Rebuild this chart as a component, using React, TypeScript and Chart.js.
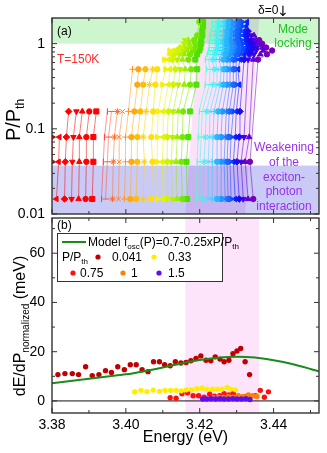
import React, { useEffect, useRef } from 'react';
import { Chart, registerables } from 'chart.js';

Chart.register(...registerables);

const FONT = '"Liberation Sans", Arial, Helvetica, sans-serif';

// ---------------- Panel (a): mode energies (eV) per excitation power ----------------
const powers = [0.015, 0.041, 0.08, 0.16, 0.33, 0.5, 0.65, 0.75, 0.83, 0.9, 1.0, 1.1, 1.25, 1.4, 1.6, 1.8];
// index of the first mode present in each power row
const firstMode = [1, 0, 0, 2, 12, 11, 16, 17, 16, 18, 19, 19, 21, 22, 22, 21];

const eP0015 = [3.3812, 3.3834, 3.3853, 3.3872, 3.3891, 3.3909, 3.3934, 3.3945, 3.3964, 3.3980, 3.3996, 3.4012, 3.4028, 3.4047, 3.4069, 3.4085, 3.4101, 3.4112, 3.4126, 3.4139, 3.4153, 3.4166, 3.4191, 3.4201, 3.4209, 3.4223, 3.4234, 3.4247, 3.4258, 3.4269, 3.4277, 3.4285, 3.4296, 3.4307, 3.4318, 3.4331, 3.4345];
const eP0041 = [3.3801, 3.3818, 3.3836, 3.3855, 3.3874, 3.3893, 3.3912, 3.3939, 3.3950, 3.3966, 3.3982, 3.3999, 3.4015, 3.4031, 3.4050, 3.4072, 3.4085, 3.4099, 3.4112, 3.4123, 3.4136, 3.4150, 3.4164, 3.4193, 3.4201, 3.4212, 3.4223, 3.4234, 3.4247, 3.4258, 3.4266, 3.4274, 3.4282, 3.4291, 3.4301, 3.4312, 3.4323, 3.4336];
const eP008 = [3.3801, 3.3820, 3.3839, 3.3858, 3.3874, 3.3893, 3.3912, 3.3942, 3.3953, 3.3969, 3.3982, 3.3999, 3.4015, 3.4031, 3.4047, 3.4069, 3.4085, 3.4101, 3.4112, 3.4126, 3.4139, 3.4153, 3.4169, 3.4196, 3.4204, 3.4215, 3.4226, 3.4236, 3.4247, 3.4258, 3.4269, 3.4277, 3.4285, 3.4296, 3.4307, 3.4320, 3.4334];
const eP016 = [3.3845, 3.3866, 3.3882, 3.3901, 3.3920, 3.3950, 3.3961, 3.3977, 3.3991, 3.4007, 3.4023, 3.4039, 3.4055, 3.4074, 3.4088, 3.4101, 3.4115, 3.4128, 3.4142, 3.4155, 3.4174, 3.4199, 3.4207, 3.4218, 3.4228, 3.4239, 3.4250, 3.4261, 3.4272, 3.4280, 3.4291, 3.4299, 3.4309];
const eP033 = [3.4031, 3.4047, 3.4064, 3.4080, 3.4099, 3.4115, 3.4128, 3.4142, 3.4158, 3.4174, 3.4191, 3.4215, 3.4226, 3.4236, 3.4247, 3.4255, 3.4264, 3.4274, 3.4282, 3.4291, 3.4299, 3.4307];
const eP05 = [3.4018, 3.4034, 3.4053, 3.4072, 3.4085, 3.4107, 3.4120, 3.4134, 3.4147, 3.4161, 3.4177, 3.4193, 3.4218, 3.4228, 3.4239, 3.4247, 3.4258, 3.4266, 3.4274, 3.4282, 3.4291, 3.4299, 3.4304];
const eP065 = [3.4104, 3.4115, 3.4126, 3.4139, 3.4153, 3.4169, 3.4188, 3.4215, 3.4223, 3.4234, 3.4242, 3.4253, 3.4264, 3.4274, 3.4282, 3.4291, 3.4299, 3.4309, 3.4320, 3.4331, 3.4345, 3.4358];
const eP075 = [3.4120, 3.4131, 3.4145, 3.4158, 3.4174, 3.4193, 3.4220, 3.4228, 3.4239, 3.4247, 3.4258, 3.4269, 3.4280, 3.4288, 3.4299, 3.4309, 3.4320, 3.4334, 3.4347, 3.4364, 3.4382];
const eP083 = [3.4118, 3.4128, 3.4139, 3.4153, 3.4166, 3.4182, 3.4199, 3.4223, 3.4231, 3.4242, 3.4250, 3.4261, 3.4272, 3.4282, 3.4293, 3.4304, 3.4315, 3.4326, 3.4339, 3.4353, 3.4372, 3.4396];
const eP09 = [3.4147, 3.4161, 3.4174, 3.4188, 3.4201, 3.4226, 3.4234, 3.4245, 3.4253, 3.4264, 3.4274, 3.4285, 3.4296, 3.4307, 3.4318, 3.4328, 3.4342, 3.4355, 3.4369, 3.4380];
const eP10 = [3.4158, 3.4172, 3.4188, 3.4204, 3.4226, 3.4234, 3.4245, 3.4253, 3.4261, 3.4272, 3.4282, 3.4293, 3.4304, 3.4315, 3.4326, 3.4336, 3.4347, 3.4358, 3.4369];
const eP11 = [3.4161, 3.4169, 3.4185, 3.4204, 3.4228, 3.4236, 3.4245, 3.4253, 3.4261, 3.4272, 3.4280, 3.4291, 3.4301, 3.4312, 3.4323, 3.4331, 3.4342, 3.4353, 3.4361];
const eP125 = [3.4193, 3.4207, 3.4228, 3.4236, 3.4245, 3.4255, 3.4264, 3.4274, 3.4282, 3.4291, 3.4301, 3.4309, 3.4320, 3.4328, 3.4339, 3.4347];
const eP14 = [3.4207, 3.4231, 3.4239, 3.4247, 3.4255, 3.4264, 3.4274, 3.4282, 3.4293, 3.4301, 3.4312, 3.4320, 3.4331];
const eP16 = [3.4209, 3.4234, 3.4242, 3.4250, 3.4258, 3.4266, 3.4277, 3.4285, 3.4296, 3.4304, 3.4315, 3.4326];
const eP18 = [3.4199, 3.4209, 3.4234, 3.4242, 3.4250, 3.4258, 3.4266, 3.4277, 3.4285, 3.4296, 3.4304, 3.4315, 3.4328];

const modeRows = [eP0015, eP0041, eP008, eP016, eP033, eP05, eP065, eP075, eP083, eP09, eP10, eP11, eP125, eP14, eP16, eP18];

// shaded regions of panel (a)
const lockingBand = [1, 2];            // P/Pth
const weakeningBand = [0.01, 0.037];   // P/Pth
const slantBandBottom = [3.4161, 3.4323]; // eV at P/Pth = 0.01
const slantBandTop = [3.4199, 3.4361];    // eV at P/Pth = 2

// ---------------- Panel (b): dE/dP normalized (meV) ----------------
const bE0041 = [3.3816, 3.3835, 3.3855, 3.3872, 3.3891, 3.3909, 3.3927, 3.3945, 3.3961, 3.3978, 3.3996, 3.4012, 3.4028, 3.4044, 3.4060, 3.4075, 3.4091, 3.4105, 3.4120, 3.4134, 3.4149, 3.4163, 3.4176, 3.4190, 3.4203, 3.4217, 3.4230, 3.4242, 3.4255, 3.4266, 3.4279, 3.4290, 3.4301, 3.4311, 3.4323, 3.4335];
const bV0041 = [10.7, 11.1, 11.1, 10.7, 13.9, 10.3, 10.7, 12.3, 11.6, 13.9, 12.7, 14.7, 14.7, 12.7, 11.9, 15.9, 15.9, 14.7, 14.3, 15.9, 15.4, 15.6, 16.3, 17.3, 18.3, 16.5, 16.3, 17.9, 17.0, 15.9, 16.5, 19.2, 20.3, 21.3, 15.9, 10.7];
const bE033 = [3.4024, 3.4041, 3.4057, 3.4074, 3.4091, 3.4106, 3.4121, 3.4136, 3.4150, 3.4164, 3.4178, 3.4192, 3.4206, 3.4219, 3.4234, 3.4247, 3.4260, 3.4274, 3.4285, 3.4297];
const bV033 = [3.6, 4.3, 3.8, 4.4, 3.9, 4.3, 4.3, 4.3, 4.1, 4.5, 4.5, 5.0, 5.3, 4.8, 4.8, 4.8, 4.8, 5.5, 4.8, 4.5];
const bE075 = [3.4120, 3.4136, 3.4152, 3.4167, 3.4182, 3.4197, 3.4212, 3.4227, 3.4240, 3.4254, 3.4266, 3.4279, 3.4291, 3.4303, 3.4315, 3.4328, 3.4351, 3.4364, 3.4375, 3.4386];
const bV075 = [1.3, 1.1, 2.9, 3.3, 2.1, 2.1, 1.5, 2.7, 1.9, 2.1, 2.9, 2.4, 3.3, 1.9, 1.3, 1.9, 2.1, 4.3, 1.5, 3.7];
const bE1 = [3.4237, 3.4251, 3.4264, 3.4278, 3.4291, 3.4305, 3.4318, 3.4332, 3.4344, 3.4355];
const bV1 = [1.3, 1.5, 1.5, 1.8, 1.5, 2.1, 1.8, 2.4, 2.1, 1.8];
const bE15 = [3.4208, 3.4219, 3.4231, 3.4243, 3.4255, 3.4266, 3.4278, 3.4290, 3.4301, 3.4313, 3.4325, 3.4336];
const bV15 = [0.8, 0.8, 0.9, 0.8, 0.9, 0.8, 0.8, 0.9, 0.8, 0.8, 0.9, 0.6];

const modelE = [3.38, 3.385, 3.39, 3.395, 3.40, 3.405, 3.41, 3.415, 3.42, 3.425, 3.43, 3.435, 3.44, 3.445, 3.45, 3.4523];
const modelV = [7.2, 8.1, 9.0, 9.9, 10.8, 12.1, 13.6, 15.2, 16.6, 17.5, 17.9, 17.6, 16.5, 15.0, 13.0, 12.0];

const bLabels = ['0.041', '0.33', '0.75', '1', '1.5'];
const pinkBandB = [3.4161, 3.4361];

// axes
const xMin = 3.38, xMax = 3.4523;
const xMajor = [3.38, 3.40, 3.42, 3.44];
const xMinor = [3.39, 3.41, 3.43, 3.45];
const pMajor = [0.01, 0.1, 1];
const pMinor = [0.02, 0.03, 0.04, 0.05, 0.06, 0.07, 0.08, 0.09, 0.2, 0.3, 0.4, 0.5, 0.6, 0.7, 0.8, 0.9];
const dMajor = [0, 20, 40, 60];
const dMinor = [10, 30, 50, 70];

// ---------------- styles ----------------
const modeColors = [
  '#ff0000',
  '#ff0000', '#ff0000', '#ff0000', '#ff0000', '#ff0000', '#ff0000',
  '#ff3c3c', '#ff5030', '#ff6a28', '#ff8020', '#ff9418',
  '#ffa810', '#ffbc08', '#ffd000', '#ffe000', '#f4f000',
  '#e4f400', '#cdf400', '#b4f000', '#98ee00', '#74e800', '#4ee000',
  '#50ffc8', '#40fce0', '#38f4f4', '#30e4ff', '#30d0ff',
  '#28b4ff', '#2098ff', '#1a7cff', '#1462ff', '#0e48ff',
  '#0020ff', '#2008f0', '#4000e4', '#6000d0', '#7800b8',
];
const SHAPES = [
  { style: 'triangle', rot: 270, r: 3.2 },
  { style: 'rectRot', rot: 0, r: 3.3 },
  { style: 'triangle', rot: 180, r: 3.2 },
  { style: 'triangle', rot: 0, r: 3.2 },
  { style: 'circle', rot: 0, r: 2.7 },
  { style: 'rect', rot: 0, r: 3.6 },
  { style: 'line', rot: 90, r: 3.2 },
  { style: 'line', rot: 0, r: 3.2 },
  { style: 'star', rot: 0, r: 3.2 },
  { style: 'crossRot', rot: 0, r: 3.2 },
  { style: 'cross', rot: 0, r: 3.2 },
  { style: 'circle', rot: 0, r: 2.7 },
  { style: 'circle', rot: 0, r: 2.7 },
  { style: 'star', rot: 0, r: 3.4 },
  { style: 'circle', rot: 0, r: 2.7 },
  { style: 'triangle', rot: 90, r: 3.2 },
];
const bColors = ['#c00000', '#ffee00', '#ff1010', '#ff8000', '#5a10f0'];
const FRAME = '#333333';

function rgba(hex: string, a: number) {
  const n = parseInt(hex.slice(1), 16);
  return `rgba(${(n >> 16) & 255},${(n >> 8) & 255},${n & 255},${a})`;
}

type Seg = { t: string; size: number; dy?: number };
function drawRich(ctx: CanvasRenderingContext2D, segs: Seg[], x: number, y: number, color: string, center: boolean, rotate: boolean) {
  ctx.save();
  ctx.translate(x, y);
  if (rotate) ctx.rotate(-Math.PI / 2);
  ctx.textAlign = 'left';
  ctx.textBaseline = 'alphabetic';
  ctx.fillStyle = color;
  const widths = segs.map((s) => {
    ctx.font = `${s.size}px ${FONT}`;
    return ctx.measureText(s.t).width;
  });
  const total = widths.reduce((a, b) => a + b, 0);
  let cx = center ? -total / 2 : 0;
  segs.forEach((s, i) => {
    ctx.font = `${s.size}px ${FONT}`;
    ctx.fillText(s.t, cx, s.dy || 0);
    cx += widths[i];
  });
  ctx.restore();
}

function drawFrameAndTicks(chart: any, yMajor: number[], yMinor: number[]) {
  const { ctx, chartArea: a, scales } = chart;
  const xs = scales.x, ys = scales.y;
  ctx.save();
  ctx.strokeStyle = FRAME;
  ctx.lineWidth = 1;
  ctx.beginPath();
  const tick = (vals: number[], len: number) => {
    vals.forEach((v) => {
      const px = xs.getPixelForValue(v);
      if (px < a.left - 0.5 || px > a.right + 0.5) return;
      ctx.moveTo(px, a.top); ctx.lineTo(px, a.top + len);
      ctx.moveTo(px, a.bottom); ctx.lineTo(px, a.bottom - len);
    });
  };
  const tickY = (vals: number[], len: number) => {
    vals.forEach((v) => {
      const py = ys.getPixelForValue(v);
      if (py < a.top - 0.5 || py > a.bottom + 0.5) return;
      ctx.moveTo(a.left, py); ctx.lineTo(a.left + len, py);
      ctx.moveTo(a.right, py); ctx.lineTo(a.right - len, py);
    });
  };
  tick(xMajor, 5); tick(xMinor, 3);
  tickY(yMajor, 5); tickY(yMinor, 3);
  ctx.stroke();
  ctx.lineWidth = 1.4;
  ctx.strokeRect(a.left, a.top, a.right - a.left, a.bottom - a.top);
  ctx.restore();
}

const panelAPlugin = {
  id: 'panelA',
  beforeDraw(chart: any) {
    const ctx = chart.ctx;
    ctx.save();
    ctx.fillStyle = '#ffffff';
    ctx.fillRect(0, 0, chart.width, chart.height);
    ctx.restore();
  },
  beforeDatasetsDraw(chart: any) {
    const { ctx, chartArea: a, scales } = chart;
    const x = scales.x, y = scales.y;
    ctx.save();
    ctx.beginPath();
    ctx.rect(a.left, a.top, a.right - a.left, a.bottom - a.top);
    ctx.clip();
    const w0 = y.getPixelForValue(weakeningBand[0]), w1 = y.getPixelForValue(weakeningBand[1]);
    ctx.fillStyle = 'rgb(202,202,246)';
    ctx.fillRect(a.left, w1, a.right - a.left, w0 - w1);
    const g0 = y.getPixelForValue(lockingBand[0]), g1 = y.getPixelForValue(lockingBand[1]);
    ctx.fillStyle = 'rgb(206,246,206)';
    ctx.fillRect(a.left, g1, a.right - a.left, g0 - g1);
    ctx.globalCompositeOperation = 'multiply';
    ctx.fillStyle = 'rgb(250,226,250)';
    const yb = y.getPixelForValue(0.01), yt = y.getPixelForValue(2);
    ctx.beginPath();
    ctx.moveTo(x.getPixelForValue(slantBandBottom[0]), yb);
    ctx.lineTo(x.getPixelForValue(slantBandBottom[1]), yb);
    ctx.lineTo(x.getPixelForValue(slantBandTop[1]), yt);
    ctx.lineTo(x.getPixelForValue(slantBandTop[0]), yt);
    ctx.closePath();
    ctx.fill();
    ctx.restore();
  },
  afterDraw(chart: any) {
    const ctx = chart.ctx;
    drawFrameAndTicks(chart, pMajor, pMinor);
    ctx.save();
    ctx.textAlign = 'left';
    ctx.textBaseline = 'alphabetic';
    ctx.font = `12px ${FONT}`;
    ctx.fillStyle = '#000';
    ctx.fillText('(a)', 57, 35);
    ctx.fillStyle = '#ff2a2a';
    ctx.fillText('T=150K', 57, 63);
    ctx.fillStyle = '#22c022';
    ctx.textAlign = 'center';
    ctx.fillText('Mode', 293, 33);
    ctx.fillText('locking', 293, 47);
    ctx.fillStyle = '#9a30f0';
    const weak = ['Weakening', 'of the', 'exciton-', 'photon', 'interaction'];
    weak.forEach((t, i) => ctx.fillText(t, 284, 151 + i * 14.8));
    ctx.fillStyle = '#000';
    ctx.textAlign = 'left';
    ctx.font = `12px ${FONT}`;
    ctx.fillText('δ=0', 258, 14);
    ctx.font = `14px "DejaVu Sans", ${FONT}`;
    ctx.textAlign = 'center';
    ctx.fillText('↓', 283, 16);
    ctx.restore();
    drawRich(ctx, [{ t: 'P/P', size: 20 }, { t: 'th', size: 12, dy: 4 }], 20, 120, '#000', true, true);
  },
};

const panelBPlugin = {
  id: 'panelB',
  beforeDatasetsDraw(chart: any) {
    const { ctx, chartArea: a, scales } = chart;
    const x = scales.x, y = scales.y;
    ctx.save();
    ctx.fillStyle = 'rgb(253,228,251)';
    const p0 = x.getPixelForValue(pinkBandB[0]), p1 = x.getPixelForValue(pinkBandB[1]);
    ctx.fillRect(p0, a.top, p1 - p0, a.bottom - a.top);
    const z = y.getPixelForValue(0);
    ctx.strokeStyle = '#111';
    ctx.lineWidth = 1;
    ctx.beginPath();
    ctx.moveTo(a.left, z);
    ctx.lineTo(a.right, z);
    ctx.stroke();
    ctx.restore();
  },
  afterDraw(chart: any) {
    const ctx = chart.ctx;
    drawFrameAndTicks(chart, dMajor, dMinor);
    ctx.save();
    ctx.font = `12px ${FONT}`;
    ctx.fillStyle = '#000';
    ctx.textAlign = 'left';
    ctx.textBaseline = 'alphabetic';
    ctx.fillText('(b)', 57, 15);
    // legend box
    ctx.fillStyle = '#fff';
    ctx.fillRect(57, 19, 165, 48);
    ctx.strokeStyle = FRAME;
    ctx.lineWidth = 1;
    ctx.strokeRect(57.5, 19.5, 165, 48);
    ctx.strokeStyle = '#1a8c1a';
    ctx.lineWidth = 2;
    ctx.beginPath();
    ctx.moveTo(62, 28);
    ctx.lineTo(86, 28);
    ctx.stroke();
    ctx.restore();
    drawRich(ctx, [{ t: 'Model f', size: 12 }, { t: 'osc', size: 8, dy: 3 }, { t: '(P)=0.7-0.25xP/P', size: 12 }, { t: 'th', size: 8, dy: 3 }], 88, 32, '#000', false, false);
    drawRich(ctx, [{ t: 'P/P', size: 12 }, { t: 'th', size: 8, dy: 3 }], 62, 47, '#000', false, false);
    const items = [
      { cx: 98, cy: 43, tx: 112, ty: 47 },
      { cx: 154, cy: 43, tx: 168, ty: 47 },
      { cx: 73, cy: 59, tx: 80, ty: 63 },
      { cx: 123, cy: 59, tx: 131, ty: 63 },
      { cx: 159, cy: 59, tx: 168, ty: 63 },
    ];
    ctx.save();
    items.forEach((it, i) => {
      ctx.fillStyle = bColors[i];
      ctx.beginPath();
      ctx.arc(it.cx, it.cy, 2.6, 0, Math.PI * 2);
      ctx.fill();
      ctx.fillStyle = '#000';
      ctx.font = `12px ${FONT}`;
      ctx.fillText(bLabels[i], it.tx, it.ty);
    });
    ctx.restore();
    drawRich(ctx, [{ t: 'Energy (eV)', size: 16 }], 185.5, 228, '#000', true, false);
    drawRich(ctx, [{ t: 'dE/dP', size: 16 }, { t: 'normalized', size: 10, dy: 4 }, { t: ' (meV)', size: 16 }], 25, 112, '#000', true, true);
  },
};

function buildModeDatasets() {
  const ds: any[] = [];
  for (let m = 0; m < modeColors.length; m++) {
    const pts: { x: number; y: number }[] = [];
    powers.forEach((p, r) => {
      const k = m - firstMode[r];
      const row = modeRows[r];
      if (k >= 0 && k < row.length) pts.push({ x: row[k], y: p });
    });
    if (!pts.length) continue;
    const sh = SHAPES[(((m - 1) % 16) + 16) % 16];
    ds.push({
      data: pts,
      showLine: true,
      borderColor: rgba(modeColors[m], 0.6),
      borderWidth: 0.9,
      pointStyle: sh.style,
      pointRotation: sh.rot,
      pointRadius: sh.r,
      pointBackgroundColor: modeColors[m],
      pointBorderColor: modeColors[m],
      pointBorderWidth: 1,
      tension: 0,
    });
  }
  return ds;
}

function pairs(xs: number[], ys: number[]) {
  return xs.map((x, i) => ({ x, y: ys[i] }));
}

export default function App() {
  const refA = useRef<HTMLCanvasElement>(null);
  const refB = useRef<HTMLCanvasElement>(null);

  useEffect(() => {
    const tickFont = { family: FONT, size: 14 };
    const chartA = new Chart(refA.current as HTMLCanvasElement, {
      type: 'scatter',
      data: { datasets: buildModeDatasets() },
      options: {
        responsive: false,
        animation: false,
        devicePixelRatio: 1,
        events: [],
        layout: { padding: { top: 18, right: 8, bottom: 11, left: 0 } },
        plugins: { legend: { display: false }, tooltip: { enabled: false } },
        scales: {
          x: { type: 'linear', min: xMin, max: xMax, display: false },
          y: {
            type: 'logarithmic',
            min: 0.01,
            max: 2,
            afterBuildTicks: (s: any) => { s.ticks = pMajor.map((v) => ({ value: v })); },
            afterFit: (s: any) => { s.width = 52; s.paddingTop = 0; s.paddingBottom = 0; },
            ticks: { font: tickFont, color: '#000', padding: 7, callback: (v: any) => String(v) },
            grid: { display: false, drawTicks: false },
            border: { display: false },
          },
        },
      } as any,
      plugins: [panelAPlugin],
    } as any);

    const chartB = new Chart(refB.current as HTMLCanvasElement, {
      type: 'scatter',
      data: {
        datasets: [
          { data: pairs(modelE, modelV), showLine: true, pointRadius: 0, borderColor: '#1a8c1a', borderWidth: 2, cubicInterpolationMode: 'monotone' },
          { data: pairs(bE15, bV15), pointRadius: 2.7, pointBackgroundColor: bColors[4], pointBorderColor: bColors[4], pointBorderWidth: 0 },
          { data: pairs(bE033, bV033), pointRadius: 2.7, pointBackgroundColor: bColors[1], pointBorderColor: bColors[1], pointBorderWidth: 0 },
          { data: pairs(bE1, bV1), pointRadius: 2.7, pointBackgroundColor: bColors[3], pointBorderColor: bColors[3], pointBorderWidth: 0 },
          { data: pairs(bE075, bV075), pointRadius: 2.7, pointBackgroundColor: bColors[2], pointBorderColor: bColors[2], pointBorderWidth: 0 },
          { data: pairs(bE0041, bV0041), pointRadius: 2.7, pointBackgroundColor: bColors[0], pointBorderColor: bColors[0], pointBorderWidth: 0 },
        ],
      },
      options: {
        responsive: false,
        animation: false,
        devicePixelRatio: 1,
        events: [],
        layout: { padding: { top: 1, right: 8, bottom: 0, left: 0 } },
        plugins: { legend: { display: false }, tooltip: { enabled: false } },
        scales: {
          x: {
            type: 'linear',
            min: xMin,
            max: xMax,
            afterBuildTicks: (s: any) => { s.ticks = xMajor.map((v) => ({ value: v })); },
            afterFit: (s: any) => { s.height = 40; s.paddingLeft = 0; s.paddingRight = 0; },
            ticks: { font: tickFont, color: '#000', padding: 4, maxRotation: 0, autoSkip: false, callback: (v: any) => Number(v).toFixed(2) },
            grid: { display: false, drawTicks: false },
            border: { display: false },
          },
          y: {
            type: 'linear',
            min: -4.9,
            max: 74.3,
            afterBuildTicks: (s: any) => { s.ticks = dMajor.map((v) => ({ value: v })); },
            afterFit: (s: any) => { s.width = 52; s.paddingTop = 0; s.paddingBottom = 0; },
            ticks: { font: tickFont, color: '#000', padding: 7, callback: (v: any) => String(v) },
            grid: { display: false, drawTicks: false },
            border: { display: false },
          },
        },
      } as any,
      plugins: [panelBPlugin],
    } as any);

    return () => {
      chartA.destroy();
      chartB.destroy();
    };
  }, []);

  return (
    <div style={{ position: 'fixed', left: 0, top: 0, width: 327, height: 453, background: '#fff', overflow: 'hidden' }}>
      <canvas ref={refA} width={327} height={225} style={{ position: 'absolute', left: 0, top: 0, width: 327, height: 225 }} />
      <canvas ref={refB} width={327} height={239} style={{ position: 'absolute', left: 0, top: 214, width: 327, height: 239 }} />
    </div>
  );
}
